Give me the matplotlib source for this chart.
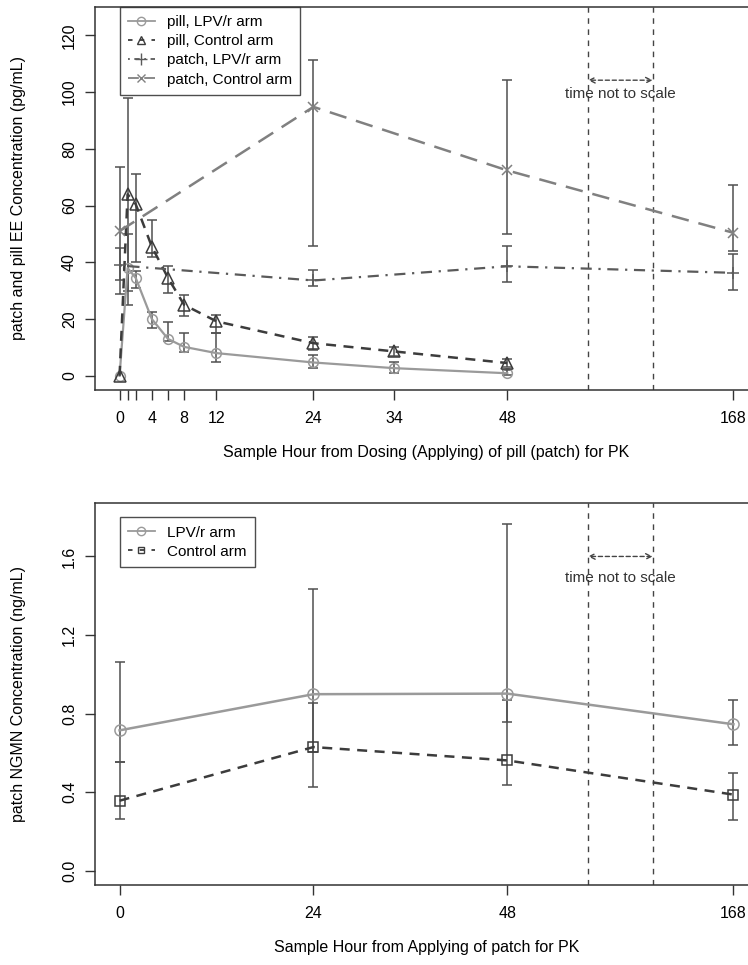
import matplotlib
matplotlib.use("Agg")
import matplotlib.pyplot as plt
from matplotlib.lines import Line2D
import numpy as np

plt.rcParams['font.family'] = ['Liberation Sans', 'DejaVu Sans']

# ---------------- data ----------------
pill_hours = [0, 1, 2, 4, 6, 8, 12, 24, 34, 48]
pill_lpv = [0, 38, 34.5, 20, 13, 10.2, 8, 4.7, 2.7, 0.9]
pill_lpv_lo = [0, 25, 31, 17, 12.1, 8.5, 5, 2.7, 0.9, 0.3]
pill_lpv_hi = [0, 50, 37, 22.4, 18.8, 15, 15, 7.4, 4.7, 2.0]
pill_ctl = [0, 64, 60.5, 45.5, 34.5, 25, 19.2, 11.5, 8.6, 4.5]
pill_ctl_lo = [0, 30, 40, 42, 29.2, 21.2, 15.1, 9.2, 7, 3]
pill_ctl_hi = [0, 98, 71, 55, 38.6, 28.6, 21.6, 13.6, 10, 6]

patch_hours = [0, 24, 48, 168]
patch_lpv = [38.9, 33.6, 38.6, 36.3]
patch_lpv_lo = [33.9, 31.6, 33, 30.4]
patch_lpv_hi = [45.1, 37.2, 45.7, 42.8]
patch_ctl = [51, 94.8, 72.4, 50.4]
patch_ctl_lo = [29, 45.7, 50.1, 43.9]
patch_ctl_hi = [73.7, 111.4, 104.3, 67.4]

ngmn_hours = [0, 24, 48, 168]
ngmn_lpv = [0.715, 0.899, 0.902, 0.746]
ngmn_lpv_lo = [0.553, 0.604, 0.757, 0.642]
ngmn_lpv_hi = [1.064, 1.433, 1.765, 0.872]
ngmn_ctl = [0.357, 0.63, 0.562, 0.388]
ngmn_ctl_lo = [0.264, 0.425, 0.438, 0.259]
ngmn_ctl_hi = [0.553, 0.855, 0.868, 0.499]

top_ticks = [0, 1, 2, 4, 6, 8, 12, 24, 34, 48, 168]
top_ticklabels = ['0', '', '', '4', '', '8', '12', '24', '34', '48', '168']
bot_ticks = [0, 24, 48, 168]
top_yticks = [0, 20, 40, 60, 80, 100, 120]
bot_yticks = [0.0, 0.4, 0.8, 1.2, 1.6]

# "time not to scale" compressed axis: hour 168 drawn at 76, break lines at 58 and 66
COMPRESSED = {168: 76}
BREAKS = (58, 66)


def pos(hours):
    return np.array([COMPRESSED.get(h, h) for h in hours], dtype=float)


W, H = 748, 965
fig = plt.figure(figsize=(W / 100, H / 100), dpi=100)

left = 95 / W
right_px = 758
ax1 = fig.add_axes([left, 1 - 390 / H, (right_px - 95) / W, (390 - 7) / H])
ax2 = fig.add_axes([left, 1 - 885 / H, (right_px - 95) / W, (885 - 503) / H])

FS = 11.5
ERR_C = '#505050'


def errbars(ax, x, lo, hi):
    x = np.asarray(x, float)
    lo = np.asarray(lo, float)
    hi = np.asarray(hi, float)
    m = hi > lo
    ax.vlines(x[m], lo[m], hi[m], color=ERR_C, lw=1.1, zorder=2)
    ax.plot(x[m], lo[m], ls='none', marker='_', ms=7, mew=1.1, color=ERR_C, zorder=2)
    ax.plot(x[m], hi[m], ls='none', marker='_', ms=7, mew=1.1, color=ERR_C, zorder=2)


def style_axes(ax, ylim, yticks, yticklabels, xticks, xticklabels, ylabel, xlabel):
    ax.set_xlim(-3.04, 79.04)
    ax.set_ylim(*ylim)
    ax.set_yticks(yticks)
    ax.set_yticklabels(yticklabels, rotation=90, va='center', fontsize=FS)
    ax.set_xticks(pos(xticks))
    ax.set_xticklabels(xticklabels, fontsize=FS)
    ax.tick_params(direction='out', length=7, width=1, color='#333333', pad=8)
    ax.tick_params(axis='y', pad=6)
    for s in ax.spines.values():
        s.set_linewidth(1.1)
        s.set_color('#333333')
    ax.set_ylabel(ylabel, fontsize=FS, labelpad=26)
    ax.set_xlabel(xlabel, fontsize=FS, labelpad=14)
    for b in BREAKS:
        ax.axvline(b, color='#444444', lw=1.0, ls=(0, (4, 4)), zorder=1)


LEG_KW = dict(loc='upper left', fontsize=FS - 0.5, frameon=True, fancybox=False,
              borderaxespad=0, handlelength=1.75, handletextpad=0.8, labelspacing=0.33,
              borderpad=0.55)

# ---------------- top panel ----------------
C_PL = '#9a9a9a'
C_PC = '#3c3c3c'
C_TL = '#5a5a5a'
C_TC = '#808080'

ax1.plot(pos(pill_hours), pill_lpv, color=C_PL, lw=1.6, ls='-', marker='o', ms=7,
         mfc='none', mec=C_PL, mew=1.1, zorder=3)
ax1.plot(pos(pill_hours), pill_ctl, color=C_PC, lw=1.8, ls=(0, (4, 3)), marker='^', ms=8,
         mfc='none', mec=C_PC, mew=1.1, zorder=3)
ax1.plot(pos(patch_hours), patch_lpv, color=C_TL, lw=1.6, ls=(0, (1, 3, 5, 3)), marker='+', ms=9,
         mec=C_TL, mew=1.1, zorder=3)
ax1.plot(pos(patch_hours), patch_ctl, color=C_TC, lw=1.8, ls=(0, (7, 4)), marker='x', ms=7,
         mec=C_TC, mew=1.1, zorder=3)

errbars(ax1, pos(pill_hours), pill_lpv_lo, pill_lpv_hi)
errbars(ax1, pos(pill_hours), pill_ctl_lo, pill_ctl_hi)
errbars(ax1, pos(patch_hours), patch_lpv_lo, patch_lpv_hi)
errbars(ax1, pos(patch_hours), patch_ctl_lo, patch_ctl_hi)

style_axes(ax1, (-5, 130), top_yticks, [str(v) for v in top_yticks],
           top_ticks, top_ticklabels,
           'patch and pill EE Concentration (pg/mL)',
           'Sample Hour from Dosing (Applying) of pill (patch) for PK')

handles1 = [
    Line2D([], [], color=C_PL, lw=1.3, ls='-', marker='o', ms=6, mfc='none', mec=C_PL),
    Line2D([], [], color=C_PC, lw=1.3, ls=(0, (2.5, 4)), marker='^', ms=6, mfc='none', mec=C_PC),
    Line2D([], [], color=C_TL, lw=1.3, ls=(0, (1, 2.5, 3, 2.5)), marker='+', ms=8, mec=C_TL),
    Line2D([], [], color=C_TC, lw=1.3, ls=(0, (6, 3)), marker='x', ms=6, mec=C_TC),
]
labels1 = ['pill, LPV/r arm', 'pill, Control arm', 'patch, LPV/r arm', 'patch, Control arm']
leg1 = ax1.legend(handles1, labels1, bbox_to_anchor=(0, 130), bbox_transform=ax1.transData,
                  **LEG_KW)
leg1.get_frame().set_edgecolor('#222222')
leg1.get_frame().set_linewidth(1.0)

mid = sum(BREAKS) / 2
ax1.annotate('', xy=(BREAKS[0], 104.2), xytext=(BREAKS[1], 104.2),
             arrowprops=dict(arrowstyle='<->', color='#444444', lw=1.0, ls=(0, (3, 2)),
                             shrinkA=0, shrinkB=0))
ax1.text(mid, 99.5, 'time not to scale', ha='center', va='center', fontsize=FS - 0.5, color='#333333')

# ---------------- bottom panel ----------------
C_BL = '#9a9a9a'
C_BC = '#3c3c3c'
ax2.plot(pos(ngmn_hours), ngmn_lpv, color=C_BL, lw=1.8, ls='-', marker='o', ms=8,
         mfc='none', mec=C_BL, mew=1.1, zorder=3)
ax2.plot(pos(ngmn_hours), ngmn_ctl, color=C_BC, lw=1.8, ls=(0, (4, 3)), marker='s', ms=7,
         mfc='none', mec=C_BC, mew=1.1, zorder=3)
errbars(ax2, pos(ngmn_hours), ngmn_lpv_lo, ngmn_lpv_hi)
errbars(ax2, pos(ngmn_hours), ngmn_ctl_lo, ngmn_ctl_hi)

style_axes(ax2, (-0.072, 1.872), bot_yticks, ['%.1f' % v for v in bot_yticks],
           bot_ticks, [str(v) for v in bot_ticks],
           'patch NGMN Concentration (ng/mL)',
           'Sample Hour from Applying of patch for PK')

handles2 = [
    Line2D([], [], color=C_BL, lw=1.3, ls='-', marker='o', ms=6, mfc='none', mec=C_BL),
    Line2D([], [], color=C_BC, lw=1.3, ls=(0, (2.5, 4)), marker='s', ms=5, mfc='none', mec=C_BC),
]
leg2 = ax2.legend(handles2, ['LPV/r arm', 'Control arm'],
                  bbox_to_anchor=(0, 1.8), bbox_transform=ax2.transData, **LEG_KW)
leg2.get_frame().set_edgecolor('#222222')
leg2.get_frame().set_linewidth(1.0)

ax2.annotate('', xy=(BREAKS[0], 1.6), xytext=(BREAKS[1], 1.6),
             arrowprops=dict(arrowstyle='<->', color='#444444', lw=1.0, ls=(0, (3, 2)),
                             shrinkA=0, shrinkB=0))
ax2.text(mid, 1.49, 'time not to scale', ha='center', va='center', fontsize=FS - 0.5, color='#333333')

fig.savefig('out.png', dpi=100)
